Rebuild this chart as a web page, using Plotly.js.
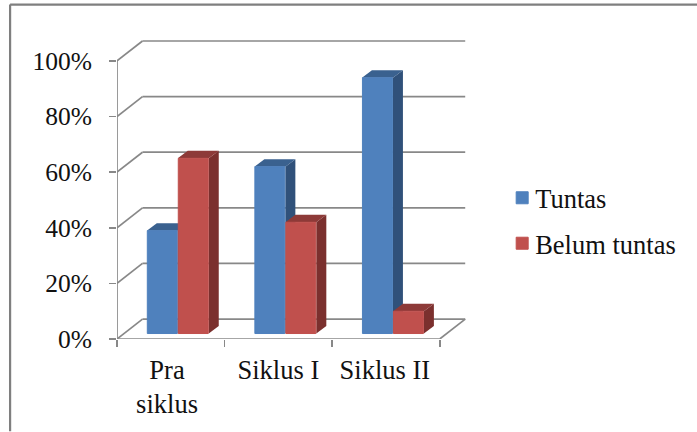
<!DOCTYPE html>
<html><head><meta charset="utf-8">
<script src="https://cdn.plot.ly/plotly-3.0.1.min.js"></script>
<style>html,body{margin:0;padding:0;background:#fff}</style></head>
<body><div id="chart" style="width:697px;height:432px"></div>
<script>
const categories = ["Pra<br>siklus", "Siklus I", "Siklus II"];
const tuntas = [0.37, 0.60, 0.92];
const belumTuntas = [0.63, 0.40, 0.08];
const yTicks = [0, 0.2, 0.4, 0.6, 0.8, 1];
const yTickText = ["0%", "20%", "40%", "60%", "80%", "100%"];
const xEdges = [0, 1, 2, 3];
const xLabelAt = [0.465, 1.5, 2.49];

const pxX = 107.67, pxY = 279;
const L = 116.5, T = 38.5, R = 695, B = 339.5;
const wallDx = 25.5 / pxX, wallDy = 20 / pxY;
const barDx = 10 / pxX, barDy = 7.5 / pxY;
const base = 5.5 / pxY;
const slot = 31 / pxX;
const groupShift = 0.5 + 7 / pxX;
const centers = categories.map((_, i) => i + groupShift);

const gridColor = "#888888";
const frameColor = "#7f7f7f";
const FONT = "Liberation Serif, Times New Roman, serif";
const shapes = [];
const line = (x0, y0, x1, y1, w) => ({type:"line", xref:"x", yref:"y", layer:"below", x0, y0, x1, y1, line:{color:gridColor, width:w||1.7}});
const poly = (pts, color) => ({type:"path", xref:"x", yref:"y", layer:"below",
  path:"M" + pts.map(p => p[0] + "," + p[1]).join("L") + "Z", fillcolor:color, line:{width:0}});

yTicks.forEach(v => {
  shapes.push(line(0, v, wallDx, v + wallDy));
  shapes.push(line(wallDx, v + wallDy, 3 + wallDx, v + wallDy));
});
shapes.push(line(3, 0, 3 + wallDx, wallDy));
shapes.push(line(0, 0, 0, 1));
shapes.push(line(0, 0, 3, 0));

function addFaces(vals, xOff, top, side) {
  vals.forEach((v, i) => {
    const x0 = centers[i] + xOff - slot / 2, x1 = x0 + slot, y = base + v;
    shapes.push(poly([[x1, base], [x1 + barDx, base + barDy], [x1 + barDx, y + barDy], [x1, y]], side));
    shapes.push(poly([[x0, y], [x0 + barDx, y + barDy], [x1 + barDx, y + barDy], [x1, y]], top));
  });
}
addFaces(tuntas, -slot / 2, "#3a618f", "#30517a");
addFaces(belumTuntas, slot / 2, "#8d3a38", "#7b302e");

// outer chart frame
const fx = p => (p - L) / (R - L), fy = p => (B - p) / (B - T);
const frame = (x0, y0, x1, y1) => ({type:"line", xref:"paper", yref:"paper", x0:fx(x0), y0:fy(y0), x1:fx(x1), y1:fy(y1), line:{color:frameColor, width:2.2}});
shapes.push(frame(9.5, 4, 697, 4));
shapes.push(frame(9.5, 4, 9.5, 432));

const bar = (name, vals, color) => ({type:"bar", name, legendgroup:name, x:centers, y:vals, base:vals.map(() => base),
  marker:{color, line:{color, width:1}}, hoverinfo:"skip"});

const traces = [bar("Tuntas", tuntas, "#4f81bd"), bar("Belum tuntas", belumTuntas, "#c0504d")];

const layout = {
  width:697, height:432, showlegend:true,
  margin:{l:L, r:697 - R, t:T, b:432 - B, pad:0},
  paper_bgcolor:"#fff", plot_bgcolor:"rgba(0,0,0,0)",
  barmode:"group", bargap:0.424, bargroupgap:0.032,
  font:{family:FONT, size:25.5, color:"#111"},
  xaxis:{range:[0, (R - L) / pxX], tickmode:"array", tickvals:xLabelAt, ticktext:categories,
    tickfont:{size:26.5}, ticks:"", showgrid:false, zeroline:false, showline:false, ticklabelstandoff:12,
    minor:{tickmode:"array", tickvals:xEdges, ticks:"outside", ticklen:7, tickwidth:1.7, tickcolor:gridColor, showgrid:false}},
  yaxis:{range:[0, (B - T) / pxY], tickmode:"array", tickvals:yTicks, ticktext:yTickText,
    ticks:"outside", ticklen:7, tickwidth:1.7, tickcolor:gridColor, showgrid:false, zeroline:false, showline:false, ticklabelstandoff:12, ticklabelshift:0.5},
  legend:{x:fx(495), y:fy(174), xanchor:"left", yanchor:"top", traceorder:"grouped", tracegroupgap:8, font:{size:26.5, color:"#111"}, bgcolor:"rgba(0,0,0,0)", itemclick:false, itemdoubleclick:false},
  shapes
};
Plotly.newPlot("chart", traces, layout, {staticPlot:true, displayModeBar:false}).then(gd => {
  gd.querySelectorAll(".legendpoints").forEach(g => g.setAttribute("transform", "translate(7,0)"));
});
</script></body></html>
